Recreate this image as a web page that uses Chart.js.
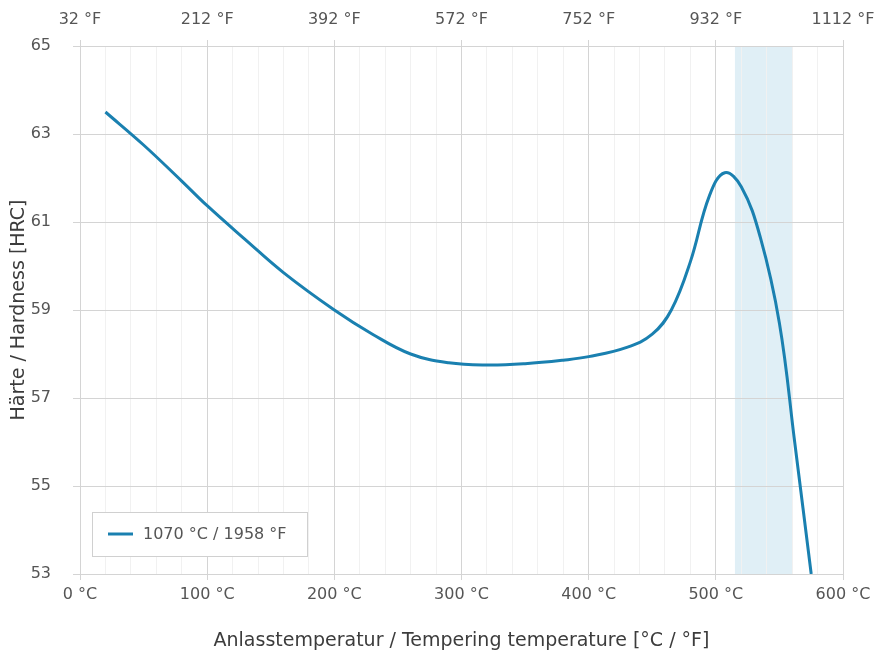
<!DOCTYPE html>
<html>
<head>
<meta charset="utf-8">
<script src="https://cdn.jsdelivr.net/npm/chart.js@4.4.1/dist/chart.umd.min.js"></script>
<style>
  html, body { margin: 0; padding: 0; background: #ffffff; }
  #wrap { width: 882px; height: 658px; }
</style>
</head>
<body>
<div id="wrap"><canvas id="hardness-chart" width="882" height="658"></canvas></div>
<script>
// tempering curve (°C -> HRC)
const temps = [20, 50, 80, 100, 130, 160, 200, 230, 260, 290, 320, 350, 380, 400,
               430, 450, 465, 480, 495, 507, 520, 535, 550, 562, 575];
const hardness = [63.5, 62.75, 61.93, 61.37, 60.6, 59.85, 59.0, 58.45, 58.0, 57.8, 57.75, 57.78, 57.86, 57.94,
                  58.15, 58.45, 59.0, 60.1, 61.6, 62.12, 61.8, 60.65, 58.7, 56.0, 53.0];
const seriesLabel = '1070 °C / 1958 °F';
const celsiusTicks = [0, 100, 200, 300, 400, 500, 600];
const hrcTicks = [53, 55, 57, 59, 61, 63, 65];
const recommendedRange = [515, 560];

const lineColor = '#1a80b0';
const majorGrid = '#d4d4d4';
const minorGrid = '#f1f1f1';
const textColor = '#555555';
const fontFamily = 'DejaVu Sans';

//chart plugins [rangeBand]
const rangeBand = {
    id: 'rangeBand',
    beforeDraw: (chart, args, options) => {
        const {ctx, chartArea: {top, bottom}, scales: {x}} = chart;
        const x1 = x.getPixelForValue(options.from);
        const x2 = x.getPixelForValue(options.to);
        ctx.save();
        ctx.fillStyle = options.color;
        ctx.fillRect(x1, top, x2 - x1, bottom - top);
        ctx.restore();
    }
}

//chart plugins [boxLegend]
const boxLegend = {
    id: 'boxLegend',
    afterDraw: (chart, args, options) => {
        const {ctx, chartArea: {left, bottom}} = chart;
        const ds = chart.data.datasets[0];
        const bx = left + 12, by = bottom - 62, bw = 215, bh = 44;
        ctx.save();
        ctx.fillStyle = '#ffffff';
        ctx.fillRect(bx, by, bw, bh);
        ctx.strokeStyle = '#d0d0d0';
        ctx.lineWidth = 1;
        ctx.strokeRect(bx + 0.5, by + 0.5, bw, bh);
        ctx.strokeStyle = ds.borderColor;
        ctx.lineWidth = 3;
        ctx.beginPath();
        ctx.moveTo(bx + 16, by + bh / 2);
        ctx.lineTo(bx + 41, by + bh / 2);
        ctx.stroke();
        ctx.fillStyle = textColor;
        ctx.font = '16px "' + fontFamily + '"';
        ctx.textBaseline = 'middle';
        ctx.fillText(ds.label, bx + 51, by + bh / 2 + 1);
        ctx.restore();
    }
}

// let the layout padding decide the side margins, not the edge labels
const fixHorizontal = h => s => { s.height = h; s.paddingLeft = 0; s.paddingRight = 0; };

const ctx = document.getElementById('hardness-chart');

let hardnessChart = new Chart(ctx, {
    type: 'line',
    data: {
        datasets: [{
            label: seriesLabel,
            data: temps.map((t, i) => ({x: t, y: hardness[i]})),
            borderColor: lineColor,
            borderWidth: 3,
            pointRadius: 0,
            tension: 0.4,
            fill: false
        }]
    },
    options: {
        responsive: false,
        animation: false,
        layout: {
            padding: {left: 0, right: 39, top: 0, bottom: 0}
        },
        scales: {
            x: {
                type: 'linear',
                position: 'bottom',
                min: 0,
                max: 600,
                afterFit: fixHorizontal(84),
                afterBuildTicks: s => { s.ticks = []; for (let v = 0; v <= 600; v += 20) s.ticks.push({value: v}); },
                ticks: {
                    autoSkip: false,
                    maxRotation: 0,
                    color: textColor,
                    font: {family: fontFamily, size: 16},
                    padding: 5,
                    callback: v => celsiusTicks.includes(v) ? v + ' °C' : ''
                },
                grid: {
                    color: c => (c.tick && c.tick.value % 100 === 0) ? majorGrid : minorGrid,
                    tickColor: c => (c.tick && c.tick.value % 100 === 0) ? majorGrid : 'rgba(0,0,0,0)',
                    tickLength: 6
                },
                border: {color: majorGrid},
                title: {
                    display: true,
                    text: 'Anlasstemperatur / Tempering temperature [°C / °F]',
                    color: '#3c3c3c',
                    font: {family: fontFamily, size: 19},
                    padding: {top: 4, bottom: 6}
                }
            },
            x2: {
                type: 'linear',
                position: 'top',
                min: 0,
                max: 600,
                afterFit: fixHorizontal(46),
                afterBuildTicks: s => { s.ticks = celsiusTicks.map(v => ({value: v})); },
                ticks: {
                    autoSkip: false,
                    maxRotation: 0,
                    color: textColor,
                    font: {family: fontFamily, size: 16},
                    padding: 11,
                    callback: v => Math.round(v * 1.8 + 32) + ' °F'
                },
                grid: {
                    drawOnChartArea: false,
                    color: majorGrid,
                    tickLength: 6
                },
                border: {display: false}
            },
            y: {
                min: 53,
                max: 65,
                afterFit: s => { s.width = 80; },
                afterBuildTicks: s => { s.ticks = hrcTicks.map(v => ({value: v})); },
                ticks: {
                    color: textColor,
                    font: {family: fontFamily, size: 16},
                    padding: 22
                },
                grid: {
                    color: majorGrid,
                    tickLength: 7
                },
                border: {color: majorGrid},
                title: {
                    display: true,
                    text: 'Härte / Hardness [HRC]',
                    color: '#3c3c3c',
                    font: {family: fontFamily, size: 19},
                    padding: {top: 8, bottom: 4}
                }
            }
        },
        plugins: {
            legend: {display: false},
            tooltip: {enabled: false},
            rangeBand: {
                from: recommendedRange[0],
                to: recommendedRange[1],
                color: '#e0eff6'
            }
        }
    },
    plugins: [rangeBand, boxLegend]
});
</script>
</body>
</html>
